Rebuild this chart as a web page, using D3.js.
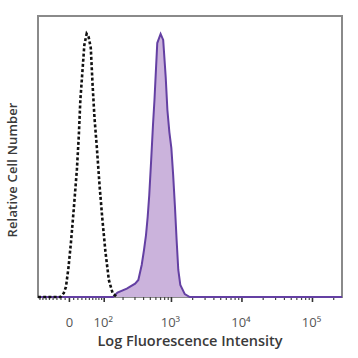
<!DOCTYPE html>
<html lang="en">
<head>
    <meta charset="UTF-8">
    <title>Log Fluorescence Intensity</title>
    <style>
        body { margin: 0; background: #fff; }
        text { font-family: "Open Sans", "DejaVu Sans", sans-serif; }
    </style>
</head>
<body>
    <div id="chart"></div>

    <script src="https://d3js.org/d3.v7.min.js"></script>
    <script>
        // control (dotted) histogram: intensity, relative count
        const controlX = [-87, -40, -21.2, -13.3, -8.15, -2.33, 3.49, 10.0, 17.6, 22.4, 26.1, 30.3, 36.3, 42.4,
                          47.9, 54.1, 59.5, 65.4, 73.2, 82.3, 92.5, 104.9, 119.8, 137.9, 160.3];
        const controlY = [0, 0, 0, 1.5, 3.8, 11.0, 20.6, 33.1, 48.4, 61.7, 75.0, 83.8, 96.0, 100.2,
                          99.0, 94.8, 80.7, 68.2, 56.7, 42.6, 29.9, 17.3, 6.5, 1.5, 0];

        // stained sample (filled) histogram
        const sampleX = [-87, 140, 164.5, 227.5, 301.2, 335.9, 375.6, 405.5, 433.2, 458.0, 482.4, 514.1, 545.6, 572.8, 591.4, 628, 701,
                         763, 828, 875.6, 933.9, 997, 1057, 1118, 1184, 1251, 1336, 1547, 1820, 262144];
        const sampleY = [0, 0, 1.7, 3.2, 5.1, 6.5, 12.2, 17.9, 23.6, 30.5, 38.8, 52.2, 65.5, 75.0, 82.6, 96.7, 100.2,
                         97.9, 83.8, 71.2, 62.8, 56.7, 46.5, 35.0, 21.7, 10.3, 4.6, 1.1, 0, 0];

        const majorTicks = [0, 100, 1000, 10000, 100000];
        const majorLabels = ["0", "10²", "10³", "10⁴", "10⁵"];

        const svg = d3.select("#chart").append("svg").attr("width", 358).attr("height", 358);
        const plot = {left: 38, right: 342, top: 16, bottom: 297};

        // biexponential-like axis: linear near zero, log for big values
        const a = 71.6;
        const tf = v => Math.asinh(v / a);
        const xLin = d3.scaleLinear().domain([tf(-87), tf(262144)]).range([plot.left, plot.right]);
        const x = v => xLin(tf(v));
        const y = d3.scaleLinear().domain([0, 107]).range([plot.bottom, plot.top]);

        const control = controlX.map((v, i) => [v, controlY[i]]);
        const sample = sampleX.map((v, i) => [v, sampleY[i]]);

        const area = d3.area().x(d => x(d[0])).y0(y(0)).y1(d => y(d[1]));
        const line = d3.line().x(d => x(d[0])).y(d => y(d[1]));

        // frame
        svg.append("rect")
            .attr("x", plot.left).attr("y", plot.top)
            .attr("width", plot.right - plot.left).attr("height", plot.bottom - plot.top)
            .attr("fill", "none")
            .attr("stroke", "#8a8a8a")
            .attr("stroke-width", 2);

        // minor ticks
        let minor = [];
        for (let i = 1; i <= 8; i++) minor.push(-i * 10);
        for (let i = 1; i <= 9; i++) minor.push(i * 10);
        [100, 1000, 10000, 100000].forEach(d => {
            for (let m = 2; m <= 9; m++) minor.push(d * m);
        });
        minor = minor.filter(v => v > -87 && v < 262144);

        svg.selectAll(".minor").data(minor).enter().append("line")
            .attr("x1", d => x(d)).attr("x2", d => x(d))
            .attr("y1", plot.bottom).attr("y2", plot.bottom + 3)
            .attr("stroke", "#444").attr("stroke-width", 1.2);

        svg.selectAll(".major").data(majorTicks).enter().append("line")
            .attr("x1", d => x(d)).attr("x2", d => x(d))
            .attr("y1", plot.bottom).attr("y2", plot.bottom + 5)
            .attr("stroke", "#333").attr("stroke-width", 1.6);

        svg.append("path")
            .datum(sample)
            .attr("d", area)
            .attr("fill", "#cbb3dc");

        svg.append("path")
            .datum(sample)
            .attr("d", line)
            .attr("fill", "none")
            .attr("stroke", "#6440a3")
            .attr("stroke-width", 2);

        svg.append("path")
            .datum(control)
            .attr("d", line)
            .attr("fill", "none")
            .attr("stroke", "#111")
            .attr("stroke-width", 2.6)
            .attr("stroke-dasharray", "3,2.2");

        svg.selectAll(".lbl").data(majorTicks).enter().append("text")
            .attr("x", d => x(d) + (d === 0 ? 0 : -1))
            .attr("y", 327)
            .attr("text-anchor", "middle")
            .attr("font-size", 13)
            .attr("fill", "#555")
            .text((d, i) => majorLabels[i]);

        svg.append("text")
            .attr("x", 190).attr("y", 346)
            .attr("text-anchor", "middle")
            .attr("font-size", 14.5)
            .attr("font-weight", 600)
            .attr("fill", "#3a3a3a")
            .attr("textLength", 185)
            .text("Log Fluorescence Intensity");

        svg.append("text")
            .attr("transform", "translate(17,170) rotate(-90)")
            .attr("text-anchor", "middle")
            .attr("font-size", 13)
            .attr("font-weight", 600)
            .attr("fill", "#3a3a3a")
            .attr("textLength", 135)
            .text("Relative Cell Number");
    </script>
</body>
</html>
